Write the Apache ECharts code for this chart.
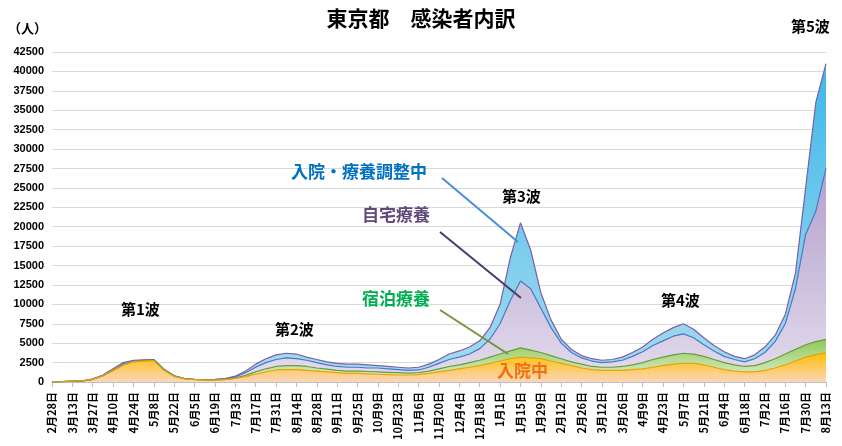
<!DOCTYPE html>
<html><head><meta charset="utf-8">
<script src="https://cdn.jsdelivr.net/npm/echarts@6/dist/echarts.min.js"></script>
<style>html,body{margin:0;padding:0;background:#fff}#c{width:842px;height:446px}</style>
</head><body><div id="c"></div>
<script>
// Weekly dates from 2020-02-28 to 2021-08-13
const categories = (function(){const a=[];const d=new Date(2020,1,28);for(let i=0;i<77;i++){a.push((d.getMonth()+1)+'月'+d.getDate()+'日');d.setDate(d.getDate()+7);}return a;})();
// Cumulative stacked levels (top edge of each layer), persons
const hospitalized = [20,40,100,150,350,800,1500,2200,2600,2700,2750,1500,700,400,300,250,250,300,450,700,1000,1300,1550,1600,1600,1500,1400,1300,1200,1100,1100,1050,1000,950,900,900,950,1100,1300,1500,1700,1900,2100,2400,2700,3000,3200,3100,3000,2700,2400,2100,1800,1600,1500,1500,1500,1600,1700,1900,2100,2300,2400,2400,2200,1900,1600,1400,1300,1300,1500,1800,2200,2700,3200,3500,3800];
const hotelLevel = [20,40,100,150,350,800,1500,2200,2650,2750,2800,1550,750,420,320,270,270,320,500,850,1300,1700,2000,2100,2100,2000,1800,1650,1500,1400,1400,1350,1300,1250,1200,1150,1200,1400,1700,2000,2200,2500,2800,3200,3600,4000,4400,4100,3800,3400,3000,2600,2300,2000,1900,1900,2000,2200,2500,2900,3200,3500,3700,3600,3300,2900,2500,2200,2000,2100,2500,3000,3600,4200,4800,5200,5500];
const homeLevel = [20,40,100,150,350,800,1550,2300,2700,2800,2850,1600,800,450,330,300,320,400,650,1200,1900,2500,2900,3100,3000,2800,2500,2200,2000,1900,1900,1800,1800,1700,1600,1500,1550,1900,2400,2900,3200,3600,4300,5500,7500,10500,13000,12000,9500,7000,5000,3800,3100,2700,2500,2600,2800,3300,3900,4700,5300,5900,6200,5700,4800,4000,3300,2900,2600,3000,3800,5200,7500,12000,19000,22000,27500];
const totalLevel = [20,40,100,150,400,900,1700,2500,2800,2850,2900,1650,800,450,340,320,350,450,750,1400,2300,3000,3500,3700,3600,3200,2900,2600,2400,2300,2300,2200,2100,2000,1900,1800,1900,2300,2900,3600,4000,4500,5300,7000,10000,16000,20500,17000,11500,8000,5500,4200,3400,3000,2800,2900,3200,3800,4500,5500,6300,7000,7500,6800,5700,4700,3900,3300,3000,3500,4500,6000,8700,14000,25000,36000,41000];
const seriesNames = ['入院・療養調整中','自宅療養','宿泊療養','入院中'];
const yTicks = {min:0,max:42500,interval:2500};

const G=(t,b)=>new echarts.graphic.LinearGradient(0,0,0,1,[{offset:0,color:t},{offset:1,color:b}]);
const mk=(name,data,line,fill)=>({name,type:'line',data,symbol:'none',smooth:false,
  lineStyle:{color:line,width:1.2},areaStyle:{color:fill,opacity:1},z:2});
const chart=echarts.init(document.getElementById('c'));
const txt=(x,y,t,c,s)=>({type:'text',left:x,top:y,z:100,style:{text:t,fill:c,font:'bold '+s+'px "Noto Sans CJK JP"'}});
const ln=(x1,y1,x2,y2,c)=>({type:'line',shape:{x1,y1,x2,y2},style:{stroke:c,lineWidth:2},z:90});
chart.setOption({
  animation:false,
  title:{text:'東京都　感染者内訳',left:'center',top:3,textStyle:{fontFamily:'Noto Sans CJK JP',fontSize:21,fontWeight:'bold',color:'#000'}},
  grid:{left:52,right:16,top:52,bottom:64},
  xAxis:{type:'category',boundaryGap:false,data:categories,
    axisLine:{lineStyle:{color:'#bfbfbf'}},axisTick:{interval:1,lineStyle:{color:'#bfbfbf'}},
    axisLabel:{interval:1,rotate:90,margin:10,color:'#000',fontSize:11,fontFamily:'Noto Sans CJK JP',fontWeight:'bold'}},
  yAxis:{type:'value',min:yTicks.min,max:yTicks.max,interval:yTicks.interval,
    axisLine:{show:false},axisTick:{show:false},splitLine:{lineStyle:{color:'#d9d9d9'}},
    axisLabel:{color:'#000',fontSize:11,fontFamily:'Liberation Sans',fontWeight:'bold',formatter:v=>String(v)}},
  series:[
    mk(seriesNames[0],totalLevel,'#7a5fa6',G('#3cb7ea','#a9dcef')),
    mk(seriesNames[1],homeLevel,'#4a78c4',G('#b3a0cc','#e3dced')),
    mk(seriesNames[2],hotelLevel,'#6f9a3c',G('#8fc95a','#e2f0d3')),
    mk(seriesNames[3],hospitalized,'#e8a400',G('#ffbf00','#fbd6bb'))
  ],
  graphic:[
    txt(8,22,'（人）','#000',13),
    txt(121,302,'第1波','#000',15),
    txt(275,322,'第2波','#000',15),
    txt(502,189,'第3波','#000',15),
    txt(661,293,'第4波','#000',15),
    txt(791,19,'第5波','#000',15),
    txt(291,163,'入院・療養調整中','#0070c0',17),
    txt(362,206,'自宅療養','#604a7b',17),
    txt(362,290,'宿泊療養','#00b050',17),
    txt(497,362,'入院中','#f07010',17),
    ln(442,178,518,242,'#4a90d9'),
    ln(440,232,521,298,'#4b3a6b'),
    ln(440,310,508,354,'#77933c')
  ]
});
</script></body></html>
